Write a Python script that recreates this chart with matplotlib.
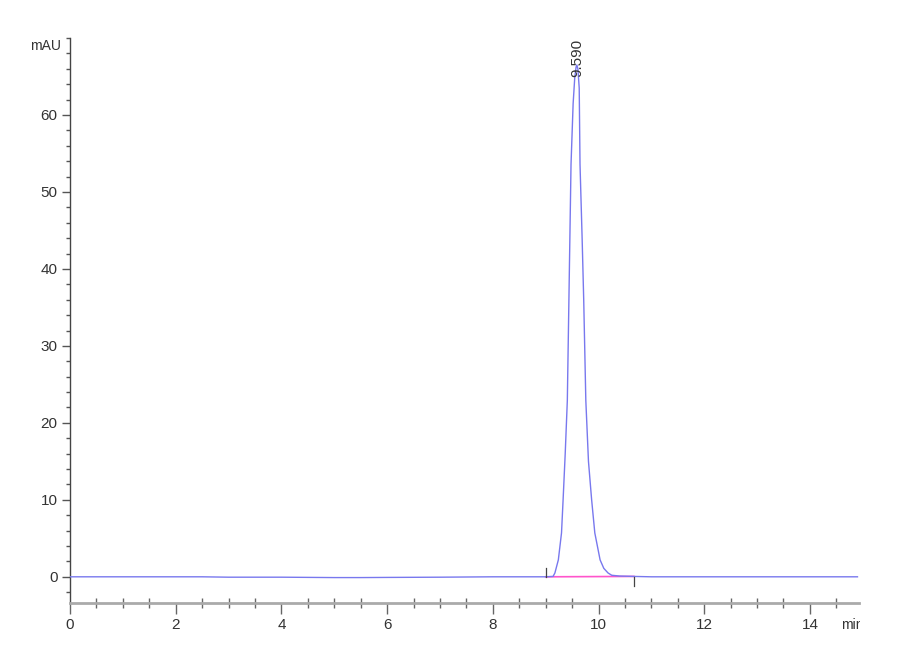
import matplotlib
matplotlib.use("Agg")
import matplotlib.pyplot as plt
from matplotlib.transforms import Bbox, TransformedBbox
from matplotlib.ticker import MultipleLocator

# ── Chromatogram trace (min, mAU) ────────────────────────────────────────────
time_min = [0.0, 1.0, 2.0, 2.5, 3.0, 4.0, 5.0, 5.5, 6.0, 7.0, 8.0, 8.5, 9.0,
            9.14, 9.175, 9.24, 9.30, 9.33, 9.37, 9.41, 9.44, 9.48, 9.52, 9.55,
            9.575, 9.59, 9.61, 9.635, 9.65, 9.69, 9.72, 9.76, 9.81, 9.87,
            9.93, 10.03, 10.10, 10.18, 10.25, 10.4, 10.67, 11.0, 12.0, 13.0,
            14.0, 14.9]
signal_mau = [0.0, 0.0, 0.0, 0.0, -0.05, -0.05, -0.1, -0.1, -0.08, -0.05, 0.0,
              0.0, 0.0,
              0.05, 0.5, 2.2, 5.7, 10.0, 16.0, 22.9, 36.0, 53.6, 61.5, 64.8,
              66.2, 66.5, 66.0, 63.5, 53.6, 44.0, 36.0, 22.9, 15.0, 10.0,
              5.7, 2.2, 1.1, 0.5, 0.2, 0.1, 0.05, 0.0, 0.0, 0.0,
              0.0, 0.0]

# integration baseline and its start/end marks
base_t = [9.0, 10.67]
base_v = [0.0, 0.05]
peak_rt = 9.590
peak_top = 65.0

x_ticks = [0, 2, 4, 6, 8, 10, 12, 14]
y_ticks = [0, 10, 20, 30, 40, 50, 60]

FONT = ['Liberation Sans Narrow', 'Liberation Sans', 'DejaVu Sans']
TXT = '#333333'

fig = plt.figure(figsize=(9, 6.6), dpi=100)
ax = fig.add_axes([0.0778, 0.0864, 0.8767, 0.856])

ax.plot(time_min, signal_mau, color='#7878ee', lw=1.0, zorder=3)
ax.plot(base_t, base_v, color='#ff55cc', lw=1.2, zorder=2)
ax.plot([base_t[0], base_t[0]], [0, 1.2], color='#444444', lw=0.9, zorder=4)
ax.plot([base_t[1], base_t[1]], [-1.2, 0], color='#444444', lw=0.9, zorder=4)

ax.text(peak_rt, peak_top, f'{peak_rt:.3f}', rotation=90, ha='center',
        va='bottom', fontsize=11, color=TXT,
        family=['Liberation Sans', 'DejaVu Sans'])

# ── Axes & style ──────────────────────────────────────────────────────────────
ax.set_xlim(0, 14.93)
ax.set_ylim(-3.4, 70)
ax.set_xticks(x_ticks)
ax.set_yticks(y_ticks)
ax.xaxis.set_minor_locator(MultipleLocator(0.5))
ax.yaxis.set_minor_locator(MultipleLocator(2))

ax.spines[['top', 'right']].set_visible(False)
ax.spines['bottom'].set_color('#aaaaaa')
ax.spines['bottom'].set_linewidth(2.0)
ax.spines['left'].set_color('#444444')
ax.spines['left'].set_linewidth(1.0)

ax.tick_params(axis='x', which='major', direction='out', length=8, width=1,
               color='#666666', labelsize=11, labelcolor=TXT, pad=3)
ax.tick_params(axis='x', which='minor', direction='inout', length=7, width=1,
               color='#666666')
ax.tick_params(axis='y', which='major', direction='out', length=6, width=1,
               color='#555555', labelsize=11, labelcolor=TXT, pad=3)
ax.tick_params(axis='y', which='minor', direction='out', length=3, width=1,
               color='#555555')
for lab in ax.get_xticklabels() + ax.get_yticklabels():
    lab.set_family(FONT)

ax.text(-0.012, 0.985, 'mAU', transform=ax.transAxes, ha='right',
        va='center', fontsize=10, color=TXT, family=FONT)

# unit label, cut at the right edge of the plot like in the original export
unit = ax.text(0.9775, -0.026, 'min', transform=ax.transAxes, ha='left',
               va='top', fontsize=10, color=TXT, family=FONT)
unit.set_clip_box(TransformedBbox(Bbox([[0, 0], [860 / 900, 1]]),
                                  fig.transFigure))
unit.set_clip_on(True)

fig.savefig('out.png', dpi=100, facecolor='white')
